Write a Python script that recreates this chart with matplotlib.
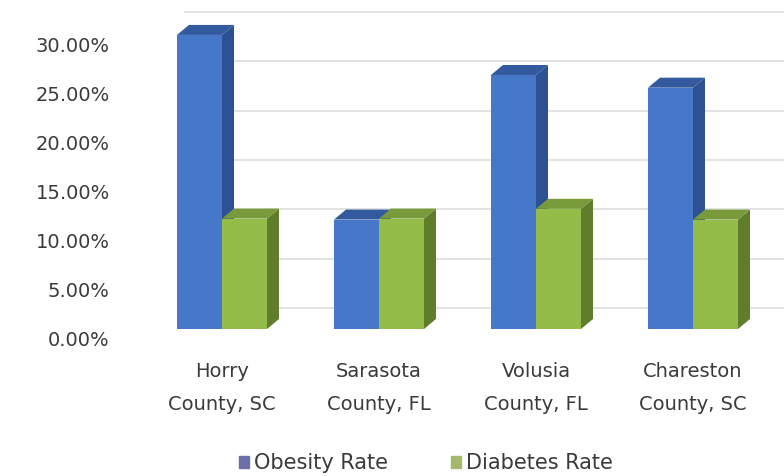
import matplotlib
matplotlib.use("Agg")
import matplotlib.pyplot as plt
from matplotlib.patches import Polygon, Patch
from matplotlib.transforms import ScaledTranslation

# ---------- data ----------
counties = ["Horry\nCounty, SC", "Sarasota\nCounty, FL", "Volusia\nCounty, FL", "Chareston\nCounty, SC"]
obesity = [30.1, 11.2, 26.0, 24.7]
diabetes = [11.3, 11.3, 12.3, 11.2]
yticks = [0, 5, 10, 15, 20, 25, 30]
series_names = ["Obesity Rate", "Diabetes Rate"]

# ---------- style ----------
W, H = 784, 476
txt = "#3a3a3a"
blue = ("#4677c8", "#2c5293", "#33599e")    # front, side, top
green = ("#94bc49", "#607d2c", "#789a3a")
plt.rcParams["font.family"] = ["DejaVu Sans"]

fig = plt.figure(figsize=(W / 100, H / 100), dpi=100)
ax_h = 345
ax = fig.add_axes([150 / W, (H - ax_h) / H, (W - 150) / W, ax_h / H])

step_px = 157.0   # px between categories
y_px = 9.77       # px per percent
ax.set_xlim((150 - 222) / step_px, (W - 222) / step_px)
ax.set_ylim(-(ax_h - 329) / y_px, 329 / y_px)

bw = 45 / step_px
dx = 12 / step_px
dy = 10 / y_px

# back wall gridlines (shifted up, behind bars)
wall = ax.transData + ScaledTranslation(0, 0.21, fig.dpi_scale_trans)
for v in yticks:
    ax.plot([(185 - 222) / step_px, 4], [v * 1.01, v * 1.01], color="#e0e0e0",
            lw=1.3, transform=wall, zorder=0, clip_on=False)


def bar3d(x0, h, cols, z):
    ax.bar(x0, h, width=bw, align="edge", color=cols[0], zorder=z)
    x1 = x0 + bw
    side = Polygon([(x1, 0), (x1 + dx, dy), (x1 + dx, h + dy), (x1, h)],
                   closed=True, fc=cols[1], ec="none", zorder=z)
    top = Polygon([(x0, h), (x1, h), (x1 + dx, h + dy), (x0 + dx, h + dy)],
                  closed=True, fc=cols[2], ec="none", zorder=z)
    ax.add_patch(side)
    ax.add_patch(top)


for i in range(len(counties)):
    bar3d(i - bw, obesity[i], blue, 2 + 2 * i)
    bar3d(i, diabetes[i], green, 3 + 2 * i)

for s in ax.spines.values():
    s.set_visible(False)

ax.set_yticks(yticks)
ax.set_yticklabels([f"{v:.2f}%" for v in yticks], fontsize=14, color=txt)
ax.set_xticks(range(len(counties)))
ax.set_xticklabels(counties, fontsize=14, color=txt, linespacing=1.95)
ax.tick_params(axis="y", length=0, pad=29)
ax.tick_params(axis="x", length=0, pad=12)
shift = ScaledTranslation(0, -0.09, fig.dpi_scale_trans)
for lab in ax.get_yticklabels():
    lab.set_transform(lab.get_transform() + shift)

handles = [Patch(color="#6b70aa"), Patch(color="#a6b86e")]
fig.legend(handles, series_names, loc="center", bbox_to_anchor=(426 / W, 1 - 463 / H),
           ncol=2, frameon=False, fontsize=15, handlelength=0.5, handleheight=0.5,
           handletextpad=0.25, columnspacing=3.0, labelcolor=txt)

fig.savefig("out.png", dpi=100)
